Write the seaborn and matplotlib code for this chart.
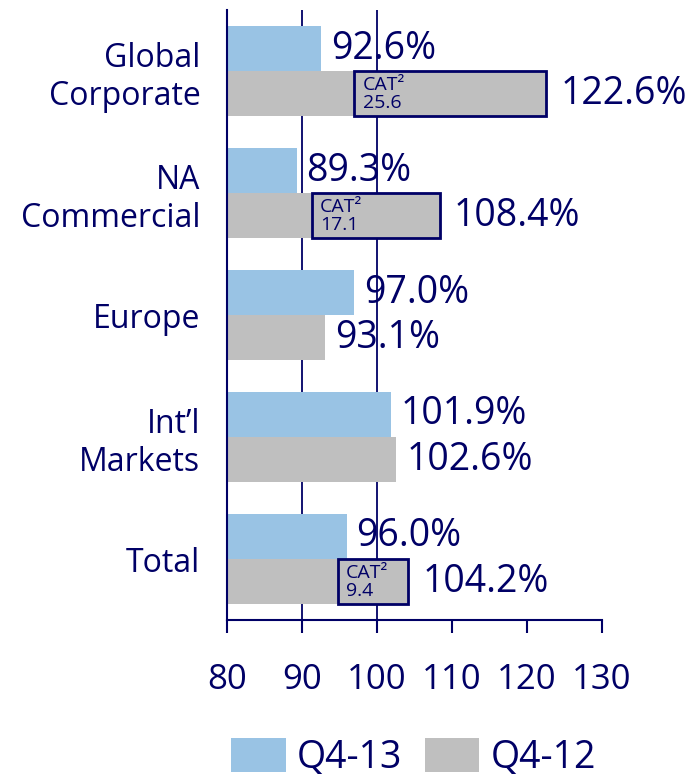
import numpy as np
import pandas as pd
import matplotlib.pyplot as plt
import seaborn as sns
from matplotlib.patches import Rectangle, Patch

# data
segments = ['Global\nCorporate', 'NA\nCommercial', 'Europe', 'Int\u2019l\nMarkets', 'Total']
q4_13 = [92.6, 89.3, 97.0, 101.9, 96.0]
q4_12 = [122.6, 108.4, 93.1, 102.6, 104.2]
cat_losses = [25.6, 17.1, None, None, 9.4]
periods = ['Q4-13', 'Q4-12']
x_ticks = [80, 90, 100, 110, 120, 130]

navy = '#000066'
colors = ['#99C3E4', '#BFBFBF']

sns.set_style('white')
plt.rcParams['font.family'] = ['Open Sans', 'DejaVu Sans']

df = pd.DataFrame({
    'segment': segments * 2,
    'period': [periods[0]] * len(segments) + [periods[1]] * len(segments),
    'ratio': q4_13 + q4_12,
})

fig = plt.figure(figsize=(7, 7.77), dpi=100)
ax = fig.add_axes([0.324, 0.202, 0.536, 0.785])

# grid lines behind the bars
for gx in [90, 100]:
    ax.axvline(gx, color=navy, lw=1.3, zorder=0.5)

sns.barplot(data=df, y='segment', x='ratio', hue='period', hue_order=periods,
            palette=colors, orient='h', width=0.74, saturation=1,
            errorbar=None, legend=False, ax=ax, linewidth=0)
for container in ax.containers:
    for bar in container:
        bar.set_zorder(2)

ax.set_xlim(80, 130)
ax.set_ylim(len(segments) - 0.5, -0.5)

# value labels and CAT boxes
for hi, container in enumerate(ax.containers):
    for si, bar in enumerate(container):
        val = bar.get_width()
        yc = bar.get_y() + bar.get_height() / 2
        cat = cat_losses[si] if hi == 1 else None
        off = 10 if cat else 7
        ax.annotate(f'{val:.1f}%', (val, yc), xytext=(off, 0),
                    textcoords='offset points', ha='left', va='center',
                    fontsize=27, color=navy)
        if cat:
            ax.add_patch(Rectangle((val - cat, bar.get_y()), cat, bar.get_height(),
                                   facecolor=colors[1], edgecolor=navy, lw=2, zorder=3))
            ax.annotate(f'CAT\u00b2\n{cat:.1f}', (val - cat, yc), xytext=(6, 0),
                        textcoords='offset points', ha='left', va='center',
                        fontsize=14, color=navy, linespacing=1.0, zorder=4)

ax.set_xticks(x_ticks)
ax.set_xlabel('')
ax.set_ylabel('')
ax.tick_params(axis='x', bottom=True, length=9, width=1.5, colors=navy, labelsize=25,
               labelcolor=navy, pad=22, direction='out')
ax.tick_params(axis='y', left=False, length=0, labelsize=23, labelcolor=navy, pad=19)
sns.despine(ax=ax, top=True, right=True)
for side in ['left', 'bottom']:
    ax.spines[side].set_color(navy)
    ax.spines[side].set_linewidth(1.5)

handles = [Patch(facecolor=c, edgecolor='none') for c in colors]
fig.legend(handles, periods, loc='center', bbox_to_anchor=(0.591, 0.025),
           ncol=2, frameon=False, fontsize=27, labelcolor=navy,
           handlelength=1.45, handleheight=1.0, handletextpad=0.3,
           columnspacing=0.6)

fig.savefig('out.png', dpi=100)
